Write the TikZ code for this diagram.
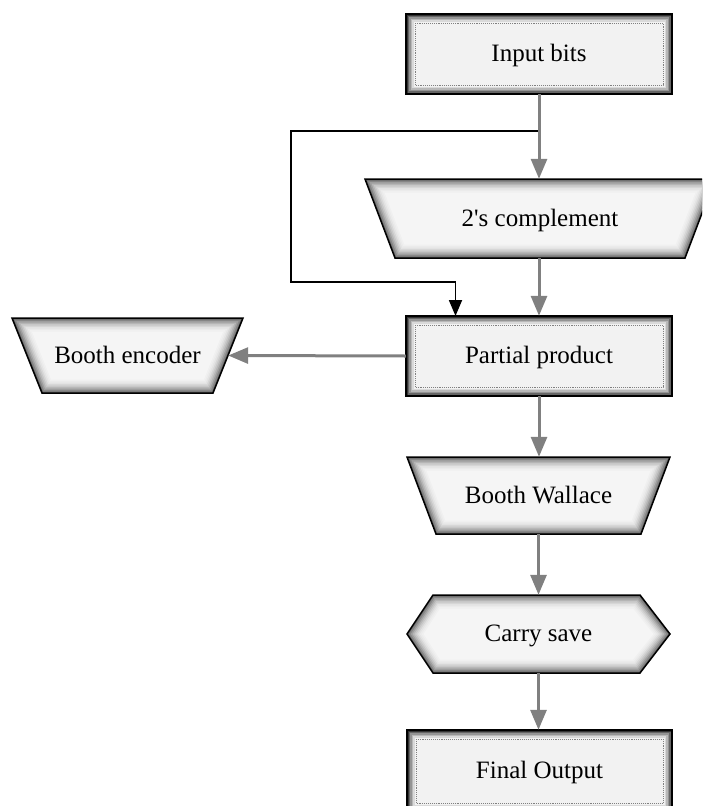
\documentclass[tikz,border=0pt]{standalone}
\usepackage{fontspec}
\setmainfont{Liberation Serif}
\usetikzlibrary{arrows.meta}
\newcommand\trapz[5]{%
 \pgfmathsetmacro\trS{#3-#4}\pgfmathsetmacro\trH{2*#5}%
 \pgfmathsetmacro\trL{sqrt(\trS*\trS+\trH*\trH)}%
 \pgfmathsetmacro\trFt{(\trS+\trL)/\trH}\pgfmathsetmacro\trFb{(\trL-\trS)/\trH}%
 \foreach \d/\c in {0/60,1.5/48,3/38,4.5/29,6/22,7.5/16,9/11,10.5/8,12/6,13.5/4} {%
   \fill[black!\c] ({#1-#3+\trFt*\d},{#2-#5+\d}) -- ({#1+#3-\trFt*\d},{#2-#5+\d}) -- ({#1+#4-\trFb*\d},{#2+#5-\d}) -- ({#1-#4+\trFb*\d},{#2+#5-\d}) -- cycle;}%
 \draw[line width=1.5pt] ({#1-#3},{#2-#5}) -- ({#1+#3},{#2-#5}) -- ({#1+#4},{#2+#5}) -- ({#1-#4},{#2+#5}) -- cycle;%
}
\newcommand\hexa[6]{% L R top bot indL indR
 \pgfmathsetmacro\hxM{(#3+#4)/2}%
 \foreach \d/\c in {0/60,1.5/48,3/38,4.5/29,6/22,7.5/16,9/11,10.5/8,12/6,13.5/4} {%
   \fill[black!\c] ({#1+1.23*\d},\hxM) -- ({#1+#5+0.52*\d},{#3+\d}) -- ({#2-#6-0.52*\d},{#3+\d}) -- ({#2-1.23*\d},\hxM) -- ({#2-#6-0.52*\d},{#4-\d}) -- ({#1+#5+0.52*\d},{#4-\d}) -- cycle;}%
 \draw[line width=1.5pt] (#1,\hxM) -- ({#1+#5},#3) -- ({#2-#6},#3) -- (#2,\hxM) -- ({#2-#6},#4) -- ({#1+#5},#4) -- cycle;%
}
\newcommand\rbox[4]{% x1 y1 x2 y2
 \foreach \d/\c in {0/80,1.5/60,3/42,4.5/28,6/15,7.5/5} {%
   \fill[black!\c] ({#1+\d},{#2+\d}) rectangle ({#3-\d},{#4-\d});}%
 \draw[black!50,densely dotted,line width=0.9pt] ({#1+9},{#2+9}) rectangle ({#3-9},{#4-9});%
 \draw[line width=2pt] (#1,#2) rectangle (#3,#4);%
}
\tikzset{
 lbl/.style={draw=none,inner sep=0pt,font=\fontsize{25}{29}\selectfont,anchor=center,text depth=2pt},
 garrow/.style={draw=black!50,line width=3pt,-{Triangle[length=20pt,width=16pt]}},
 barrow/.style={draw=black,line width=1.8pt,-{Triangle[length=16pt,width=13pt]}},
}
\begin{document}
\begin{tikzpicture}[x=1pt,y=-1pt]
\useasboundingbox (0,0) rectangle (702,806);
\clip (0,0) rectangle (702,806);
% shapes
\rbox{406}{14}{672}{94}
\trapz{540}{218.5}{175}{145}{39.5}
\rbox{406}{316}{672}{396}
\trapz{127.5}{355.5}{115.5}{85.5}{37.5}
\trapz{538.5}{495.5}{131.5}{102.5}{38.5}
\hexa{407}{670}{595}{673}{26}{30}
\rbox{407}{730}{672}{812}
% labels
\node[lbl,minimum width=266pt,minimum height=80pt] (inp) at (539,54) {Input bits};
\node[lbl,minimum width=320pt,minimum height=79pt] (cmp) at (540,218.5) {2\textquotesingle s complement};
\node[lbl,minimum width=266pt,minimum height=80pt] (pp) at (539,356) {Partial product};
\node[lbl,minimum width=201pt,minimum height=75pt] (enc) at (127.5,355.5) {Booth encoder};
\node[lbl,minimum width=234pt,minimum height=77pt] (bw) at (538.5,495.5) {Booth Wallace};
\node[lbl,minimum width=263pt,minimum height=78pt] (cs) at (538.5,634) {Carry save};
\node[lbl,minimum width=265pt,minimum height=82pt] (fo) at (539.5,771) {Final Output};
% connectors
\coordinate (br) at (539,131);
\coordinate (fbc) at (291,282);
\coordinate (ppin) at (455.5,316);
\draw[barrow] (br) -| (fbc) -| (ppin);
\draw[garrow] (inp.south) -- (inp.south |- cmp.north);
\draw[garrow] (pp.north |- cmp.south) -- (pp.north);
\draw[garrow] (pp.west) -- (enc.east);
\draw[garrow] (pp.south) -- (pp.south |- bw.north);
\draw[garrow] (bw.south) -- (cs.north);
\draw[garrow] (cs.south) -- (cs.south |- fo.north);
\end{tikzpicture}
\end{document}
